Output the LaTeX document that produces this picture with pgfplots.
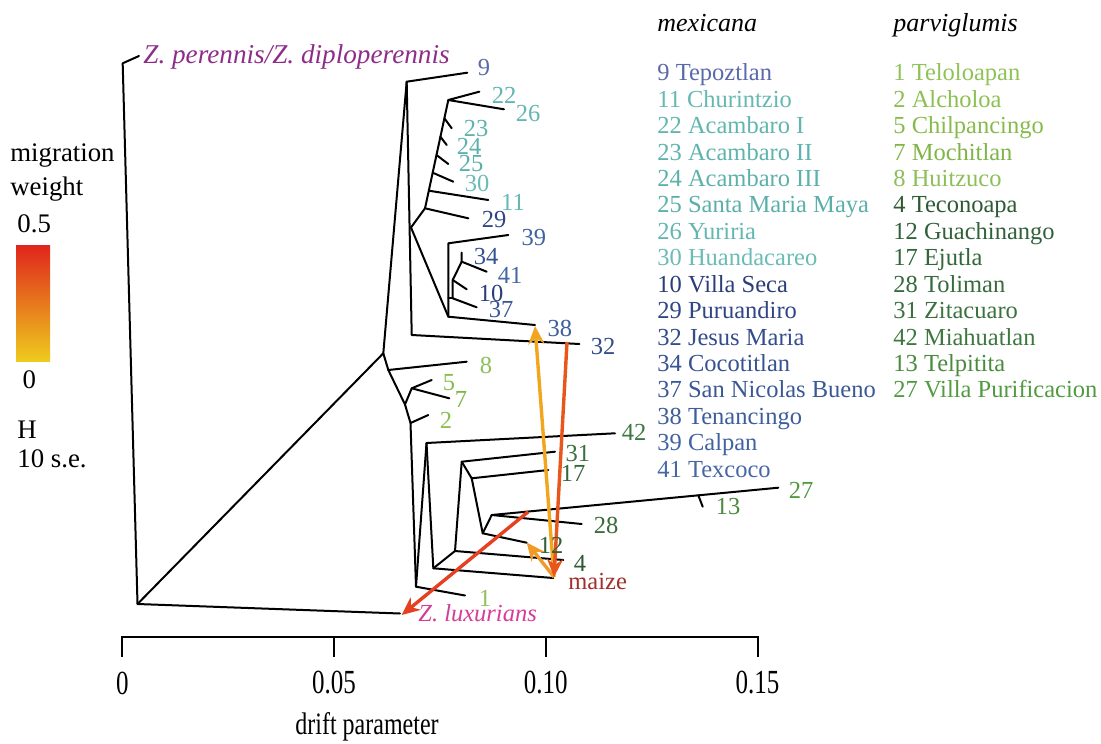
\documentclass[border=0pt]{standalone}
\usepackage{fontspec}
\setmainfont{Liberation Serif}
\usepackage{graphicx}
\usepackage{pgfplots}
\pgfplotsset{compat=1.18}
\usetikzlibrary{arrows.meta}
% population colours
\definecolor{c9}{HTML}{5A69AA}
\definecolor{c11}{HTML}{66B8B3}
\definecolor{c22}{HTML}{60B5B0}
\definecolor{c23}{HTML}{5EB3AD}
\definecolor{c24}{HTML}{5CB1AB}
\definecolor{c25}{HTML}{5AAFA9}
\definecolor{c26}{HTML}{63B6B1}
\definecolor{c30}{HTML}{6BBBB6}
\definecolor{c10}{HTML}{2B3D78}
\definecolor{c29}{HTML}{2F4584}
\definecolor{c32}{HTML}{324C8C}
\definecolor{c34}{HTML}{365291}
\definecolor{c37}{HTML}{3A5896}
\definecolor{c38}{HTML}{3D5D9B}
\definecolor{c39}{HTML}{4062A0}
\definecolor{c41}{HTML}{4567A5}
\definecolor{c1}{HTML}{8FC257}
\definecolor{c2}{HTML}{8BBF50}
\definecolor{c5}{HTML}{86BB4B}
\definecolor{c7}{HTML}{7FB546}
\definecolor{c8}{HTML}{8CBF5A}
\definecolor{c4}{HTML}{2D5A33}
\definecolor{c12}{HTML}{30613A}
\definecolor{c17}{HTML}{33663A}
\definecolor{c28}{HTML}{376B3C}
\definecolor{c31}{HTML}{3B713E}
\definecolor{c42}{HTML}{3F7741}
\definecolor{c13}{HTML}{4A8A3E}
\definecolor{c27}{HTML}{519A41}
\definecolor{peren}{HTML}{8E2C8A}
\definecolor{luxur}{HTML}{D63C96}
\definecolor{maizec}{HTML}{A0302A}
\definecolor{migA}{HTML}{F2A61F}
\definecolor{migB}{HTML}{F09A28}
\definecolor{migC}{HTML}{E8561C}
\definecolor{migD}{HTML}{E5401F}
\definecolor{barTop}{HTML}{E0251C}
\definecolor{barMid}{HTML}{E8661E}
\definecolor{barBot}{HTML}{EECB1E}
\newcommand{\lf}{\fontsize{12.25pt}{14pt}\selectfont}
\newcommand{\lgf}{\fontsize{13.4pt}{15pt}\selectfont}
\pgfplotsset{
  tree/.style={black,line width=1pt,mark=none,line join=round,line cap=round},
  mig/.style={line width=1.7pt,mark=none,-{Stealth[length=9pt,width=8pt]}},
}
\begin{document}
\begin{tikzpicture}
\begin{axis}[width=550.5pt,height=371.5pt,scale only axis,
  xmin=-0.028878,xmax=0.231098,ymin=0,ymax=743,y dir=reverse,
  hide axis,clip=false]
\path (rel axis cs:0,0) rectangle (rel axis cs:1,1);
% ---------------- tree (x = drift parameter, y = vertical position) -----
\addplot[tree] coordinates {(0.00394,56) (0.00009,63.3) (0.00359,604) (0.06557,613.5)};
\addplot[tree] coordinates {(0.00359,604) (0.06163,353.3) (0.06715,81.7) (0.08146,72.7)};
\addplot[tree] coordinates {(0.06715,81.7) (0.06834,335) (0.10791,344)};
\addplot[tree] coordinates {(0.08430,91.7) (0.07698,100) (0.09013,109.3)};
\addplot[tree] coordinates {(0.07698,100) (0.07148,208.3) (0.06817,227.5) (0.07698,316.7) (0.09745,325)};
\addplot[tree] coordinates {(0.07606,118.3) (0.07778,128.3)};
\addplot[tree] coordinates {(0.07511,136.7) (0.07660,145)};
\addplot[tree] coordinates {(0.07419,155) (0.07698,164)};
\addplot[tree] coordinates {(0.07329,172.7) (0.07816,181.7)};
\addplot[tree] coordinates {(0.07237,190.7) (0.08642,200)};
\addplot[tree] coordinates {(0.07148,208.3) (0.08170,218.3)};
\addplot[tree] coordinates {(0.09115,235) (0.07698,243.3) (0.07698,316.7)};
\addplot[tree] coordinates {(0.08014,252.7) (0.08014,261.7) (0.08604,271.7)};
\addplot[tree] coordinates {(0.08014,261.7) (0.07802,280) (0.08132,289.3)};
\addplot[tree] coordinates {(0.07802,280) (0.07802,298.3) (0.08368,307.3)};
\addplot[tree] coordinates {(0.07802,298.3) (0.07698,298.3)};
\addplot[tree] coordinates {(0.06163,353.3) (0.06281,370) (0.08132,361.7)};
\addplot[tree] coordinates {(0.06281,370) (0.06675,404.5) (0.06805,423) (0.06935,586.7) (0.08092,595.5)};
\addplot[tree] coordinates {(0.06675,404.5) (0.06834,388.3)};
\addplot[tree] coordinates {(0.07306,380) (0.06834,388.3) (0.07721,398.3)};
\addplot[tree] coordinates {(0.06805,423) (0.07226,415)};
\addplot[tree] coordinates {(0.06935,586.7) (0.07183,443) (0.11634,433.3)};
\addplot[tree] coordinates {(0.07183,443) (0.07344,568.3) (0.10177,578)};
\addplot[tree] coordinates {(0.07344,568.3) (0.07856,551) (0.10413,560)};
\addplot[tree] coordinates {(0.07856,551) (0.08014,461.7) (0.10217,451.7)};
\addplot[tree] coordinates {(0.08014,461.7) (0.08250,478.3) (0.10059,470)};
\addplot[tree] coordinates {(0.08250,478.3) (0.08510,533.3) (0.09549,542.7)};
\addplot[tree] coordinates {(0.08510,533.3) (0.08723,515) (0.10848,524)};
\addplot[tree] coordinates {(0.08723,515) (0.15490,487.7)};
\addplot[tree] coordinates {(0.13601,495.3) (0.13705,506.7)};
% ---------------- migration edges ----------------
\addplot[mig,migA] coordinates {(0.10194,577) (0.09745,326)};
\addplot[mig,migB] coordinates {(0.10194,577) (0.09549,542.5)};
\addplot[mig,migC] coordinates {(0.10501,342) (0.10194,577)};
\addplot[mig,migD] coordinates {(0.09587,511.7) (0.06597,615)};
% ---------------- drift axis ----------------
\addplot[black,line width=1pt,mark=none] coordinates {(0,657) (0,637) (0.15,637) (0.15,657)};
\addplot[black,line width=1pt,mark=none] coordinates {(0.05,637) (0.05,657)};
\addplot[black,line width=1pt,mark=none] coordinates {(0.10,637) (0.10,657)};
\begin{scope}[every node/.style={inner sep=0pt,font=\fontsize{12.5pt}{14pt}\selectfont}]
\node at (axis cs:0,683) {\scalebox{1}[1.35]{0}};
\node at (axis cs:0.05,683) {\scalebox{1}[1.35]{0.05}};
\node at (axis cs:0.10,683) {\scalebox{1}[1.35]{0.10}};
\node at (axis cs:0.15,683) {\scalebox{1}[1.35]{0.15}};
\node[font=\fontsize{12pt}{14pt}\selectfont] at (axis cs:0.05778,727) {\scalebox{1}[1.3]{drift parameter}};
\end{scope}
% ---------------- tip labels ----------------
\begin{scope}[every node/.style={inner sep=0pt,font=\lf}]
\node[text=c9]  at (axis cs:0.08541,67.5) {9};
\node[text=c22] at (axis cs:0.09013,95) {22};
\node[text=c26] at (axis cs:0.09580,114) {26};
\node[text=c23] at (axis cs:0.08352,129) {23};
\node[text=c24] at (axis cs:0.08187,146) {24};
\node[text=c25] at (axis cs:0.08235,164) {25};
\node[text=c30] at (axis cs:0.08376,183) {30};
\node[text=c11] at (axis cs:0.09225,202) {11};
\node[text=c29] at (axis cs:0.08777,220) {29};
\node[text=c39] at (axis cs:0.09721,238) {39};
\node[text=c34] at (axis cs:0.08588,257) {34};
\node[text=c41] at (axis cs:0.09155,275) {41};
\node[text=c10] at (axis cs:0.08706,293) {10};
\node[text=c37] at (axis cs:0.08942,310) {37};
\node[text=c38] at (axis cs:0.10335,328) {38};
\node[text=c32] at (axis cs:0.11351,347) {32};
\node[text=c8]  at (axis cs:0.08588,365) {8};
\node[text=c5]  at (axis cs:0.07714,383) {5};
\node[text=c7]  at (axis cs:0.07998,399) {7};
\node[text=c2]  at (axis cs:0.07643,420) {2};
\node[text=c42] at (axis cs:0.12083,432) {42};
\node[text=c31] at (axis cs:0.10760,454) {31};
\node[text=c17] at (axis cs:0.10642,473) {17};
\node[text=c27] at (axis cs:0.16026,490) {27};
\node[text=c13] at (axis cs:0.14302,507) {13};
\node[text=c28] at (axis cs:0.11422,525) {28};
\node[text=c12] at (axis cs:0.10123,545) {12};
\node[text=c4]  at (axis cs:0.10808,563) {4};
\node[text=c1]  at (axis cs:0.08564,598) {1};
\node[text=maizec,anchor=base west] at (axis cs:0.10524,589) {maize};
\node[text=luxur,anchor=base west] at (axis cs:0.06982,621) {\itshape Z. luxurians};
\node[text=peren,anchor=base west,font=\fontsize{13.6pt}{15pt}\selectfont] at (axis cs:0.00489,64) {\itshape Z. perennis/Z. diploperennis};
% ---------------- population legend ----------------
\node[anchor=base west,font=\fontsize{13pt}{15pt}\selectfont\itshape] at (axis cs:0.12626,32) {mexicana};
\node[anchor=base west,font=\fontsize{13pt}{15pt}\selectfont\itshape] at (axis cs:0.18198,32) {parviglumis};
\node[anchor=base west,text=c9]  at (axis cs:0.12626,81)    {9 Tepoztlan};
\node[anchor=base west,text=c11] at (axis cs:0.12626,107.4) {11 Churintzio};
\node[anchor=base west,text=c22] at (axis cs:0.12626,133.8) {22 Acambaro I};
\node[anchor=base west,text=c23] at (axis cs:0.12626,160.2) {23 Acambaro II};
\node[anchor=base west,text=c24] at (axis cs:0.12626,186.6) {24 Acambaro III};
\node[anchor=base west,text=c25] at (axis cs:0.12626,213)   {25 Santa Maria Maya};
\node[anchor=base west,text=c26] at (axis cs:0.12626,239.4) {26 Yuriria};
\node[anchor=base west,text=c30] at (axis cs:0.12626,265.8) {30 Huandacareo};
\node[anchor=base west,text=c10] at (axis cs:0.12626,292.2) {10 Villa Seca};
\node[anchor=base west,text=c29] at (axis cs:0.12626,318.6) {29 Puruandiro};
\node[anchor=base west,text=c32] at (axis cs:0.12626,345)   {32 Jesus Maria};
\node[anchor=base west,text=c34] at (axis cs:0.12626,371.4) {34 Cocotitlan};
\node[anchor=base west,text=c37] at (axis cs:0.12626,397.8) {37 San Nicolas Bueno};
\node[anchor=base west,text=c38] at (axis cs:0.12626,424.2) {38 Tenancingo};
\node[anchor=base west,text=c39] at (axis cs:0.12626,450.6) {39 Calpan};
\node[anchor=base west,text=c41] at (axis cs:0.12626,477)   {41 Texcoco};
\node[anchor=base west,text=c1]  at (axis cs:0.18198,81)    {1 Teloloapan};
\node[anchor=base west,text=c2]  at (axis cs:0.18198,107.4) {2 Alcholoa};
\node[anchor=base west,text=c5]  at (axis cs:0.18198,133.8) {5 Chilpancingo};
\node[anchor=base west,text=c7]  at (axis cs:0.18198,160.2) {7 Mochitlan};
\node[anchor=base west,text=c8]  at (axis cs:0.18198,186.6) {8 Huitzuco};
\node[anchor=base west,text=c4]  at (axis cs:0.18198,213)   {4 Teconoapa};
\node[anchor=base west,text=c12] at (axis cs:0.18198,239.4) {12 Guachinango};
\node[anchor=base west,text=c17] at (axis cs:0.18198,265.8) {17 Ejutla};
\node[anchor=base west,text=c28] at (axis cs:0.18198,292.2) {28 Toliman};
\node[anchor=base west,text=c31] at (axis cs:0.18198,318.6) {31 Zitacuaro};
\node[anchor=base west,text=c42] at (axis cs:0.18198,345)   {42 Miahuatlan};
\node[anchor=base west,text=c13] at (axis cs:0.18198,371.4) {13 Telpitita};
\node[anchor=base west,text=c27] at (axis cs:0.18198,397.8) {27 Villa Purificacion};
\end{scope}
% ---------------- migration weight scale ----------------
\shade[top color=barTop,middle color=barMid,bottom color=barBot] (axis cs:-0.02510,245) rectangle (axis cs:-0.01707,361);
\begin{scope}[every node/.style={inner sep=0pt,font=\lgf,anchor=base west}]
\node at (axis cs:-0.02652,162) {migration};
\node at (axis cs:-0.02652,196) {weight};
\node at (axis cs:-0.02486,233) {0.5};
\node at (axis cs:-0.02361,388) {0};
\node at (axis cs:-0.02486,438) {H};
\node at (axis cs:-0.02486,467) {10 s.e.};
\end{scope}
\end{axis}
\end{tikzpicture}
\end{document}
